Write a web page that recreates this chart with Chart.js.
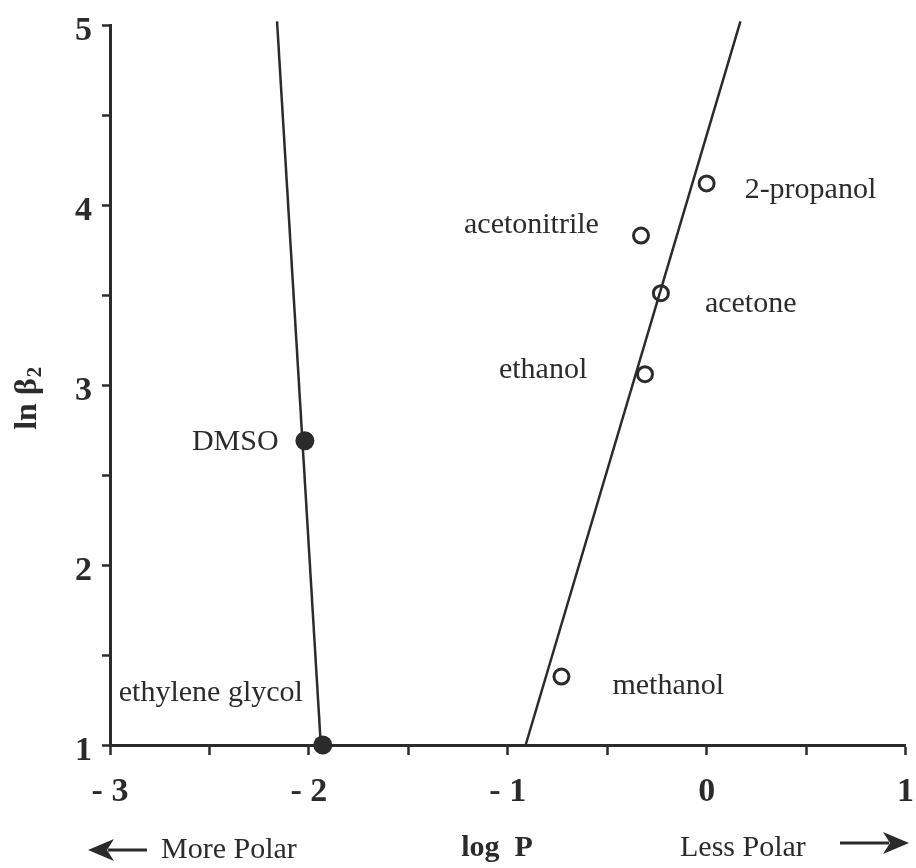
<!DOCTYPE html>
<html>
<head>
<meta charset="utf-8">
<script src="https://cdn.jsdelivr.net/npm/chart.js@4/dist/chart.umd.min.js"></script>
<style>
    html, body { margin: 0; padding: 0; background: #fff; }
    #wrap { width: 916px; height: 868px; position: relative; }
</style>
</head>
<body>
<div id="wrap"><canvas id="myChart" width="916" height="868"></canvas></div>
<script>
// solvents, log P and ln beta2
const solvents = ['2-propanol', 'acetonitrile', 'acetone', 'ethanol', 'methanol', 'DMSO', 'ethylene glycol'];
const logP = [0.00, -0.33, -0.23, -0.31, -0.73, -2.02, -1.93];
const lnBeta2 = [4.12, 3.83, 3.51, 3.06, 1.38, 2.69, 1.00];
const filled = [false, false, false, false, false, true, true];

// fitted lines (end points)
const leftFitX = [-2.16, -1.94];
const leftFitY = [5.02, 1.0];
const rightFitX = [-0.91, 0.17];
const rightFitY = [1.0, 5.02];

const xTicks = [-3, -2, -1, 0, 1];
const yTicks = [1, 2, 3, 4, 5];

const ink = '#2b2b2b';
const serif = '"Liberation Serif", "DejaVu Serif", serif';

// where each solvent name sits, offset in px from its point
const labelOffset = {
    '2-propanol': [38, 7],
    'acetonitrile': [-177, -10],
    'acetone': [44, 11],
    'ethanol': [-146, -4],
    'methanol': [51, 10],
    'DMSO': [-113, 1],
    'ethylene glycol': [-204, -52]
};

function toPoints(xs, ys) {
    return xs.map((x, i) => ({x: x, y: ys[i]}));
}

const openPts = [], solidPts = [];
solvents.forEach((s, i) => {
    (filled[i] ? solidPts : openPts).push({x: logP[i], y: lnBeta2[i], name: s});
});

function arrow(ctx, tail, tip, y) {
    const dir = Math.sign(tip - tail);
    const back = tip - dir * 26;
    ctx.beginPath();
    ctx.moveTo(tail, y); ctx.lineTo(back + dir * 6, y);
    ctx.stroke();
    ctx.beginPath();
    ctx.moveTo(tip, y);
    ctx.lineTo(back, y - 11);
    ctx.lineTo(back + dir * 7, y);
    ctx.lineTo(back, y + 11);
    ctx.closePath();
    ctx.fill();
}

const labelPlugin = {
    id: 'solventLabels',
    afterDatasetsDraw(chart) {
        const {ctx, scales: {x, y}} = chart;
        ctx.save();
        ctx.fillStyle = ink;
        ctx.font = '30px ' + serif;
        ctx.textBaseline = 'middle';
        ctx.textAlign = 'left';
        solvents.forEach((s, i) => {
            const off = labelOffset[s];
            ctx.fillText(s, x.getPixelForValue(logP[i]) + off[0], y.getPixelForValue(lnBeta2[i]) + off[1]);
        });

        // axis titles
        ctx.font = 'bold 30px ' + serif;
        ctx.textAlign = 'center';
        ctx.fillText('log  P', 497, 848);

        ctx.save();
        ctx.translate(28, 398);
        ctx.rotate(-Math.PI / 2);
        ctx.textAlign = 'center';
        ctx.font = 'bold 32px ' + serif;
        ctx.fillText('ln \u03b2', -6, 0);
        ctx.font = 'bold 21px ' + serif;
        ctx.fillText('2', 26, 8);
        ctx.restore();

        // polarity hints with arrows
        ctx.font = '30px ' + serif;
        ctx.textAlign = 'left';
        ctx.fillText('More Polar', 161, 850);
        ctx.fillText('Less Polar', 680, 848);

        ctx.strokeStyle = ink;
        ctx.lineWidth = 3;
        arrow(ctx, 147, 88, 850);
        arrow(ctx, 840, 909, 843);
        ctx.restore();
    }
};

const tickFont = {family: serif, size: 34, weight: 'bold'};

const ctx = document.getElementById('myChart').getContext('2d');
const myChart = new Chart(ctx, {
    type: 'scatter',
    data: {
        datasets: [
            {
                type: 'line',
                data: toPoints(leftFitX, leftFitY),
                borderColor: ink,
                borderWidth: 2.5,
                pointRadius: 0,
                fill: false
            },
            {
                type: 'line',
                data: toPoints(rightFitX, rightFitY),
                borderColor: ink,
                borderWidth: 2.5,
                pointRadius: 0,
                fill: false
            },
            {
                data: openPts,
                pointRadius: 7.5,
                pointBorderWidth: 3,
                borderColor: ink,
                backgroundColor: '#fff'
            },
            {
                data: solidPts,
                pointRadius: 9.5,
                pointBorderWidth: 0,
                borderColor: ink,
                backgroundColor: ink
            }
        ]
    },
    options: {
        responsive: false,
        animation: false,
        clip: false,
        layout: {padding: {top: 25, right: 5, left: 0, bottom: 0}},
        plugins: {
            legend: {display: false},
            tooltip: {enabled: false}
        },
        scales: {
            x: {
                type: 'linear',
                min: -3,
                max: 1,
                afterFit: (s) => { s.height = 123; s.paddingLeft = 0; s.paddingRight = 0; },
                afterBuildTicks: (s) => {
                    s.ticks = [];
                    for (let v = -3; v <= 1.001; v += 0.5) s.ticks.push({value: v});
                },
                border: {display: true, color: ink, width: 3},
                grid: {drawOnChartArea: false, tickLength: 10, tickWidth: 2.5, tickColor: ink},
                ticks: {
                    color: ink,
                    font: tickFont,
                    padding: 17,
                    maxRotation: 0,
                    autoSkip: false,
                    callback: (v) => xTicks.includes(v) ? (v < 0 ? '- ' + Math.abs(v) : String(v)) : ''
                }
            },
            y: {
                type: 'linear',
                min: 1,
                max: 5,
                afterFit: (s) => { s.width = 110; s.paddingTop = 0; s.paddingBottom = 0; },
                afterBuildTicks: (s) => {
                    s.ticks = [];
                    for (let v = 1; v <= 5.001; v += 0.5) s.ticks.push({value: v});
                },
                border: {display: true, color: ink, width: 3},
                grid: {drawOnChartArea: false, tickLength: 8, tickWidth: 2.5, tickColor: ink},
                ticks: {
                    color: ink,
                    font: tickFont,
                    padding: 10,
                    labelOffset: 6,
                    autoSkip: false,
                    callback: (v) => yTicks.includes(v) ? String(v) : ''
                }
            }
        }
    },
    plugins: [labelPlugin]
});
</script>
</body>
</html>
